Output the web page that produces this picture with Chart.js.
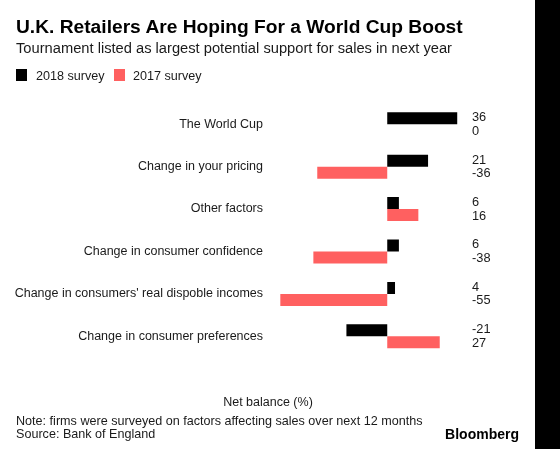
<!DOCTYPE html>
<html>
<head>
<meta charset="utf-8">
<script src="https://cdn.jsdelivr.net/npm/chart.js@4"></script>
<style>
  body { margin: 0; background: #fff; font-family: "Liberation Sans", Arial, sans-serif; color: #1a1a1a; }
  .page { position: relative; width: 560px; height: 449px; overflow: hidden; }
  .page div { position: absolute; white-space: nowrap; }
  .strip { left: 535px; top: 0; width: 25px; height: 449px; background: #000; }
  .title { left: 16px; top: 16.5px; font-size: 19.2px; line-height: 19px; font-weight: bold; color: #000; }
  .subtitle { left: 16px; top: 41px; font-size: 14.7px; line-height: 15px; }
  .legend { top: 68.5px; font-size: 12.6px; line-height: 14px; }
  .swatch { width: 11px; height: 12px; }
  .axis-title { left: 268px; top: 395px; font-size: 12.5px; line-height: 14px; transform: translateX(-50%); }
  .note { left: 16px; font-size: 12.6px; line-height: 14px; }
  .brand { right: 41px; top: 427px; font-size: 14px; line-height: 14px; font-weight: bold; color: #000; }
  canvas { position: absolute; left: 0; top: 0; }
</style>
</head>
<body>
<div class="page">
  <canvas id="chart" width="535" height="449"></canvas>
  <div class="strip"></div>
  <div class="title">U.K. Retailers Are Hoping For a World Cup Boost</div>
  <div class="subtitle">Tournament listed as largest potential support for sales in next year</div>
  <div class="swatch" style="left:16px; top:69px; background:#000;"></div>
  <div class="legend" style="left:36px;">2018 survey</div>
  <div class="swatch" style="left:114px; top:69px; background:#ff6060;"></div>
  <div class="legend" style="left:133px;">2017 survey</div>
  <div class="axis-title">Net balance (%)</div>
  <div class="note" style="top:414px;">Note: firms were surveyed on factors affecting sales over next 12 months</div>
  <div class="note" style="top:427px;">Source: Bank of England</div>
  <div class="brand">Bloomberg</div>
</div>

<script>
// ---- data ----
const categories = [
  'The World Cup',
  'Change in your pricing',
  'Other factors',
  'Change in consumer confidence',
  "Change in consumers' real dispoble incomes",
  'Change in consumer preferences'
];
const survey2018 = [36, 21, 6, 6, 4, -21];
const survey2017 = [0, -36, 16, -38, -55, 27];

// ---- value labels to the right of the plot ----
const valueLabels = {
  id: 'valueLabels',
  afterDatasetsDraw(chart) {
    const ctx = chart.ctx;
    const yScale = chart.scales.y;
    const x = chart.chartArea.right + 7;
    ctx.save();
    ctx.font = '12.8px "Liberation Sans", Arial, sans-serif';
    ctx.fillStyle = '#1a1a1a';
    ctx.textAlign = 'left';
    ctx.textBaseline = 'middle';
    categories.forEach((c, i) => {
      const y = yScale.getPixelForValue(i);
      ctx.fillText(String(survey2018[i]), x, y - 6.5);
      ctx.fillText(String(survey2017[i]), x, y + 7);
    });
    ctx.restore();
  }
};

new Chart(document.getElementById('chart'), {
  type: 'bar',
  data: {
    labels: categories,
    datasets: [
      { label: '2018 survey', data: survey2018, backgroundColor: '#000000', barThickness: 12, inflateAmount: 0 },
      { label: '2017 survey', data: survey2017, backgroundColor: '#ff6060', barThickness: 12, inflateAmount: 0 }
    ]
  },
  options: {
    indexAxis: 'y',
    responsive: false,
    animation: false,
    layout: { padding: { top: 103, bottom: 91.5, left: 0, right: 70 } },
    plugins: {
      legend: { display: false },
      tooltip: { enabled: false }
    },
    scales: {
      x: {
        display: false,
        min: -60,
        max: 40
      },
      y: {
        grid: { display: false, drawTicks: false },
        border: { display: false },
        ticks: {
          color: '#1a1a1a',
          padding: 7.6,
          font: { family: '"Liberation Sans", Arial, sans-serif', size: 12.5 }
        },
        afterFit: s => { s.width = 270.6; }
      }
    }
  },
  plugins: [valueLabels]
});
</script>
</body>
</html>
